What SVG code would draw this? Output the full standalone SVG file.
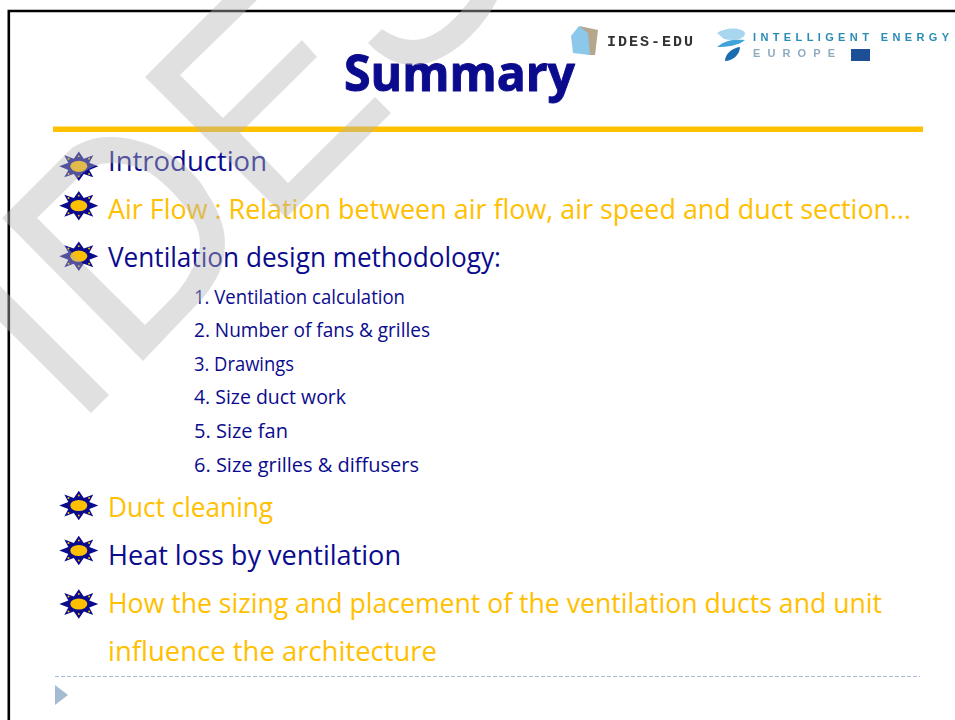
<svg xmlns="http://www.w3.org/2000/svg" width="955" height="720" viewBox="0 0 955 720">
<style>
text{font-family:"Open Sans","Noto Sans",sans-serif}
.m{font-size:27px}
.l{font-size:20px}
.n{fill:#0b0b8e}
.o{fill:#ffc000}
.wm{fill:#b5b5b5;fill-opacity:.42}
</style>
<defs>
<filter id="soft" x="-5%" y="-5%" width="110%" height="110%"><feGaussianBlur stdDeviation="0.45"/></filter>
<g id="sun">
<polygon fill="#0b0b8e" points="19.5,0 10.5,-3.6 14.5,-11 5,-7.6 0,-14.7 -5,-7.6 -14.5,-11 -10.5,-3.6 -19.5,0 -10.5,3.6 -14.5,11 -5,7.6 0,14.7 5,7.6 14.5,11 10.5,3.6"/>
<ellipse rx="11" ry="7.8" fill="#0b0b8e"/>
<ellipse rx="8.5" ry="5.6" fill="#ffc000"/>
<g fill="#ffc000"><circle cx="10.3" cy="-7.6" r="1"/><circle cx="-10.3" cy="-7.6" r="1"/><circle cx="10.3" cy="7.6" r="1"/><circle cx="-10.3" cy="7.6" r="1"/><circle cy="-10" r=".9"/><circle cy="10" r=".9"/></g>
</g>
</defs>
<rect width="955" height="720" fill="#fff"/>
<path d="M955,11H8.8V720" fill="none" stroke="#000" stroke-width="2.6"/>
<g id="logos">
<g id="logo-ides" filter="url(#soft)">
<polygon points="579,26 598,30 595,55 588,55" fill="#b5a68c"/>
<polygon points="571,36 579,26 588,33 590,55 573,53" fill="#8cc8ea"/>
<text x="607" y="46" font-size="15" font-weight="700" fill="#333" textLength="86" lengthAdjust="spacing" style="font-family:'Liberation Mono',monospace">IDES-EDU</text>
</g>
<g id="logo-iee" filter="url(#soft)">
<path d="M717,33C725,27 742,27 745,33C745,40 733,41 724,39Z" fill="#a9d6ef"/>
<path d="M717,47C725,40 735,39 745,40C738,46 727,47 717,47Z" fill="#3fa4d8"/>
<path d="M725,61C725,54 732,48 740,47C740,54 733,61 725,61Z" fill="#1c6cb0"/>
<text x="753" y="41" font-size="11" font-weight="700" fill="#2a8bb5" textLength="196" lengthAdjust="spacing" style="font-family:'Liberation Sans',sans-serif">INTELLIGENT ENERGY</text>
<text x="753" y="57" font-size="11" font-weight="700" fill="#8fabc0" textLength="82" lengthAdjust="spacing" style="font-family:'Liberation Sans',sans-serif">EUROPE</text>
<rect x="851" y="49" width="19" height="12" fill="#1f4f96"/>
</g>
</g>
<g id="title"><text x="344" y="91" font-size="50" font-weight="700" fill="#0b0b8e" stroke="#0b0b8e" stroke-width="1" stroke-linejoin="round" textLength="231" lengthAdjust="spacingAndGlyphs">Summary</text></g>
<rect id="title-rule" x="53" y="126.5" width="870" height="5.5" fill="#ffc000"/>
<g id="bullets">
<use href="#sun" x="78.8" y="166.3"/>
<use href="#sun" x="78.8" y="205.7"/>
<use href="#sun" x="78.8" y="256.2"/>
<use href="#sun" x="78.8" y="505.5"/>
<use href="#sun" x="78.8" y="550.5"/>
<use href="#sun" x="78.8" y="604"/>
</g>
<g id="main-items">
<text class="m n" x="108" y="170.5" textLength="159" lengthAdjust="spacingAndGlyphs">Introduction</text>
<text class="m o" x="108" y="218.5" textLength="803" lengthAdjust="spacingAndGlyphs">Air Flow : Relation between air flow, air speed and duct section…</text>
<text class="m n" x="108" y="266.5" textLength="393" lengthAdjust="spacingAndGlyphs">Ventilation design methodology:</text>
<text class="m o" x="108" y="516.5" textLength="165" lengthAdjust="spacingAndGlyphs">Duct cleaning</text>
<text class="m n" x="108" y="564.5" textLength="293" lengthAdjust="spacingAndGlyphs">Heat loss by ventilation</text>
<text class="m o" x="108" y="612.5" textLength="774" lengthAdjust="spacingAndGlyphs">How the sizing and placement of the ventilation ducts and unit</text>
<text class="m o" x="108" y="660.5" textLength="329" lengthAdjust="spacingAndGlyphs">influence the architecture</text>
</g>
<g id="sub-items">
<text class="l n" x="194" y="304" textLength="211" lengthAdjust="spacingAndGlyphs">1. Ventilation calculation</text>
<text class="l n" x="194" y="337" textLength="236" lengthAdjust="spacingAndGlyphs">2. Number of fans &amp; grilles</text>
<text class="l n" x="194" y="371" textLength="100" lengthAdjust="spacingAndGlyphs">3. Drawings</text>
<text class="l n" x="194" y="404" textLength="152" lengthAdjust="spacingAndGlyphs">4. Size duct work</text>
<text class="l n" x="194" y="438" textLength="94" lengthAdjust="spacingAndGlyphs">5. Size fan</text>
<text class="l n" x="194" y="472" textLength="225" lengthAdjust="spacingAndGlyphs">6. Size grilles &amp; diffusers</text>
</g>
<g id="footer">
<line x1="55" y1="676.5" x2="920" y2="676.5" stroke="#a3bbd3" stroke-width="1" stroke-dasharray="4 2"/>
<polygon points="55,685 68,695 55,705" fill="#a4bbd2"/>
</g>
<g id="watermark">
<polygon class="wm" points="0,286 109,395 91,413 0,322"/>
<path class="wm" fill-rule="evenodd" d="M2,218L72,148C85,140 97,137 110,137C132,137 152,144 167,153C186,165 199,178 207,193C217,208 225,225 225,243C225,256 222,268 217,277C212,286 208,292 203,298L143,361ZM37,218L145,325L167,303C175,295 184,285 190,273C196,263 200,253 200,243C200,232 195,221 187,210C178,197 165,183 150,173C137,166 123,163 110,163C101,163 92,166 83,173Z"/>
<polygon class="wm" points="145,77 222,0 257,0 180,75 223,118 302,40 317,57 240,133 288,183 375,97 391,113 286,218"/>
<path class="wm" d="M382,29C392,36 403,40 413,40C435,40 455,20 470,0L497,0C485,25 450,65 413,65C398,65 382,58 368,43Z"/>
</g>
</svg>
